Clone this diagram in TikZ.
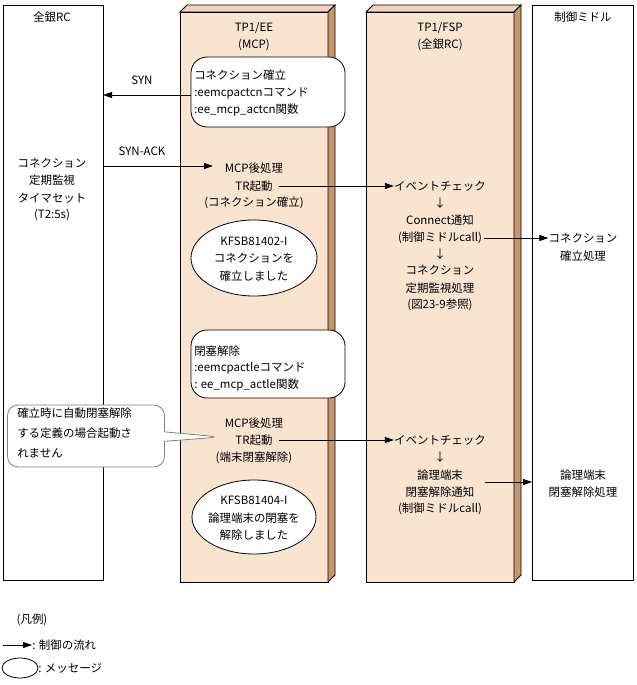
\documentclass[tikz,border=0pt]{standalone}
\usepackage{fontspec}
\setmainfont{Noto Sans CJK JP}
\usetikzlibrary{arrows.meta,shapes.geometric,shapes.callouts}
\definecolor{face}{HTML}{F9E4CF}
\definecolor{side}{HTML}{C8966A}
\begin{document}
\begin{tikzpicture}[x=0.75pt,y=-0.75pt,font=\fontsize{8.6pt}{10pt}\selectfont,
  t/.style={inner sep=0pt,anchor=center},
  tl/.style={inner sep=0pt,anchor=west},
  flow/.style={-{Triangle[length=9pt*0.75,width=6pt*0.75]},line width=0.6pt},
  box/.style={draw,rounded corners=12pt,line width=0.6pt,fill=white},
  msg/.style={draw,ellipse,line width=0.6pt,fill=white}]
\path[use as bounding box] (0,0) rectangle (636,685);
% lanes
\draw[line width=0.7pt] (3,5) rectangle (103,580);
\draw[line width=0.7pt] (532,5) rectangle (633,580);
\foreach \x in {180,366}{
 \draw[line width=0.7pt,fill=face] (\x,12) rectangle (\x+148,582);
 \draw[line width=0.7pt,fill=face!80!side] (\x,12) -- (\x+7,5) -- (\x+155,5) -- (\x+148,12) -- cycle;
 \draw[line width=0.7pt,fill=side] (\x+148,12) -- (\x+155,5) -- (\x+155,575) -- (\x+148,582) -- cycle;
}
\node[t] (zr) at (52,17) {全銀RC};
\node[t] (ee1) at (254,28) {TP1/EE};
\node[t] (ee2) at (254,45) {(MCP)};
\node[t] (fs1) at (440,28) {TP1/FSP};
\node[t] (fs2) at (440,45) {(全銀RC)};
\node[t] (cm) at (583,17) {制御ミドル};
% box1
\node[box,minimum width=154*0.75pt,minimum height=70*0.75pt] (b1) at (268,92) {};
\node[tl] at (194,75) {コネクション確立};
\node[tl] at (194,93) {:eemcpactcnコマンド};
\node[tl] at (194,110) {:ee\_mcp\_actcn関数};
\coordinate (synend) at (103,95);
\draw[flow] (b1.west |- synend) -- (synend);
\node[t] (syn) at (142,80) {SYN};
\coordinate (ackst) at (103,166);
\node[t] (mcp1) at (254,168) {MCP後処理};
\node[t] (tr1) at (254,186) {TR起動};
\node[t] (cc1) at (254,203) {(コネクション確立)};
\draw[flow] (ackst) -- (213,166);
\node[t] (ack) at (142,151) {SYN-ACK};
\node[t] at (52,163) {コネクション};
\node[t] at (52,180) {定期監視};
\node[t] at (52,198) {タイマセット};
\node[t] at (52,215) {(T2:5s)};
\node[t] (ev1) at (440,186) {イベントチェック};
\draw[flow] (tr1.east)++(6,0) -- (ev1.west);
\node[t] at (440,203) {↓};
\node[t] at (440,220) {Connect通知};
\node[t] (call1) at (440,238) {(制御ミドルcall)};
\node[t] at (440,254) {↓};
\node[t] at (440,270) {コネクション};
\node[t] at (440,288) {定期監視処理};
\node[t] at (440,305) {(図23-9参照)};
\node[t] (cc2) at (583,238) {コネクション};
\node[t] at (583,256) {確立処理};
\draw[flow] (call1.east)++(2,0) -- (cc2.west);
\node[msg,minimum width=126*0.75pt,minimum height=76*0.75pt] (m1) at (254,258) {};
\node[t] at (254,241) {KFSB81402-I};
\node[t] at (254,258) {コネクションを};
\node[t] at (254,276) {確立しました};
% box2
\node[box,minimum width=154*0.75pt,minimum height=68*0.75pt] (b2) at (268,364) {};
\node[tl] at (194,351) {閉塞解除};
\node[tl] at (194,368) {:eemcpactleコマンド};
\node[tl] at (194,385) {: ee\_mcp\_actle関数};
% callout
\node[draw=gray,rectangle callout,rounded corners=8pt,fill=white,line width=0.6pt,
  minimum width=157*0.75pt,minimum height=62*0.75pt,
  callout absolute pointer={(220,437)}] (co) at (86,436) {};
\node[tl] at (17,413) {確立時に自動閉塞解除};
\node[tl] at (17,433) {する定義の場合起動さ};
\node[tl] at (17,453) {れません};
\node[t] (mcp2) at (254,423) {MCP後処理};
\node[t] (tr2) at (254,440) {TR起動};
\node[t] at (254,458) {(端末閉塞解除)};
\node[t] (ev2) at (440,440) {イベントチェック};
\draw[flow] (tr2.east)++(6,0) -- (ev2.west);
\node[t] at (440,457) {↓};
\node[t] at (440,475) {論理端末};
\node[t] at (440,492) {閉塞解除通知};
\node[t] at (440,509) {(制御ミドルcall)};
\node[t] (lt) at (583,475) {論理端末};
\node[t] at (583,492) {閉塞解除処理};
\coordinate (a2s) at (485,482);
\draw[flow] (a2s) -- (532,482);
\node[msg,minimum width=124*0.75pt,minimum height=74*0.75pt] (m2) at (254,517) {};
\node[t] at (254,500) {KFSB81404-I};
\node[t] at (254,518) {論理端末の閉塞を};
\node[t] at (254,535) {解除しました};
% legend
\node[t] (lg) at (32,620) {(凡例)};
\coordinate (la) at (3,645);
\node[tl] (lf) at (32,645) {: 制御の流れ};
\draw[flow] (la) -- (lf.west);
\node[msg,minimum width=36*0.75pt,minimum height=20*0.75pt,inner sep=0pt] (le) at (20,668) {};
\node[tl] at (38,668) {: メッセージ};
\end{tikzpicture}
\end{document}
